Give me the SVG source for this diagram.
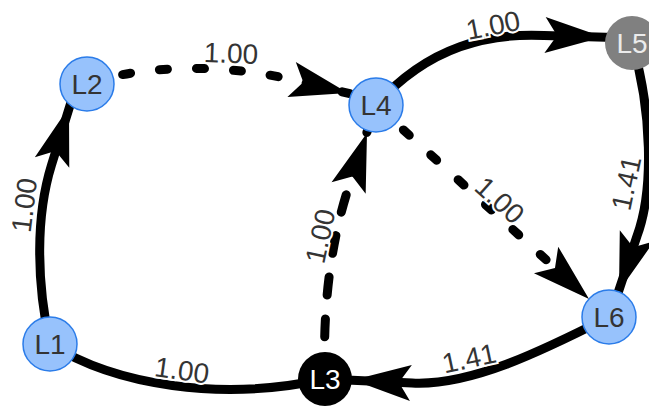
<svg xmlns="http://www.w3.org/2000/svg" xmlns:xlink="http://www.w3.org/1999/xlink" width="649" height="406" viewBox="0 0 649 406">
<style>
.e{fill:none;stroke:#000;stroke-width:9}
.dot{stroke-dasharray:8 29;stroke-linecap:round}
.dash{stroke-dasharray:18 24;stroke-linecap:round}
.ah{fill:#000}
.el{font-family:"Liberation Sans",Arial,sans-serif;font-size:28px;fill:#343434;stroke:#fff;stroke-width:4;paint-order:stroke;text-anchor:middle}
.nl{font-family:"Liberation Sans",Arial,sans-serif;font-size:28px;text-anchor:middle}
.blue{fill:#97c2fc;stroke:#2b7ce9;stroke-width:1.5}
</style>
<defs>
<path id="ah" d="M0,0 L-58,-18 L-46,0 L-58,18 Z"/>
</defs>
<rect width="649" height="406" fill="#fff"/>
<g id="connectors">
<g id="e-L1-L2">
<path class="e" d="M50,344 C36,280 36,215 51.5,165 L76,86"/>
<use href="#ah" class="ah" transform="translate(69,107) rotate(-73)"/>
<text class="el" transform="translate(24,205) rotate(-83)" y="10">1.00</text>
</g>
<g id="e-L2-L4">
<path class="e dot" d="M87,84 C150,62 235,66 291,79.5 L376,100"/>
<use href="#ah" class="ah" transform="translate(348,93) rotate(13.5)"/>
<text class="el" transform="translate(231,53) rotate(2)" y="10">1.00</text>
</g>
<g id="e-L4-L5">
<path class="e" d="M376,105 C430,45 490,33 544,35.5 L632,38"/>
<use href="#ah" class="ah" transform="translate(603,37) rotate(2)"/>
<text class="el" transform="translate(493,25) rotate(-11)" y="10">1.00</text>
</g>
<g id="e-L5-L6">
<path class="e" d="M632,43 C652,110 654,190 637,236 L609,320"/>
<use href="#ah" class="ah" transform="translate(619,291) rotate(108)"/>
<text class="el" transform="translate(626,183) rotate(-78)" y="10">1.41</text>
</g>
<g id="e-L4-L6">
<path class="e dot" d="M376,105 L609,317"/>
<use href="#ah" class="ah" transform="translate(589,299) rotate(42.3)"/>
<text class="el" transform="translate(500,200) rotate(42)" y="10">1.00</text>
</g>
<g id="e-L6-L3">
<path class="e" d="M609,317 C540,352 470,386 412,383 L325,379"/>
<use href="#ah" class="ah" transform="translate(353,380) rotate(183)"/>
<text class="el" transform="translate(469,358) rotate(-12)" y="10">1.41</text>
</g>
<g id="e-L1-L3">
<path class="e" d="M50,344 C115,385 220,402 325,379"/>
<text class="el" transform="translate(182,370) rotate(8)" y="10">1.00</text>
</g>
<g id="e-L3-L4">
<path class="e dash" d="M325,379 C322,300 333,235 348.5,187.5 L376,105"/>
<use href="#ah" class="ah" transform="translate(367,133) rotate(-71.5)"/>
<text class="el" transform="translate(320,236) rotate(-78)" y="10">1.00</text>
</g>
</g>
<g id="L1"><circle class="blue" cx="50" cy="344" r="27"/><text class="nl" x="50" y="354" fill="#343434">L1</text></g>
<g id="L2"><circle class="blue" cx="87" cy="84" r="27"/><text class="nl" x="87" y="94" fill="#343434">L2</text></g>
<g id="L3"><circle cx="325" cy="379" r="27" fill="#000"/><text class="nl" x="325" y="389" fill="#fff">L3</text></g>
<g id="L4"><circle class="blue" cx="376" cy="105" r="27"/><text class="nl" x="376" y="115" fill="#343434">L4</text></g>
<g id="L5"><circle cx="632" cy="43" r="27" fill="#808080"/><text class="nl" x="632" y="53" fill="#ebebeb">L5</text></g>
<g id="L6"><circle class="blue" cx="609" cy="317" r="27"/><text class="nl" x="609" y="327" fill="#343434">L6</text></g>
</svg>
